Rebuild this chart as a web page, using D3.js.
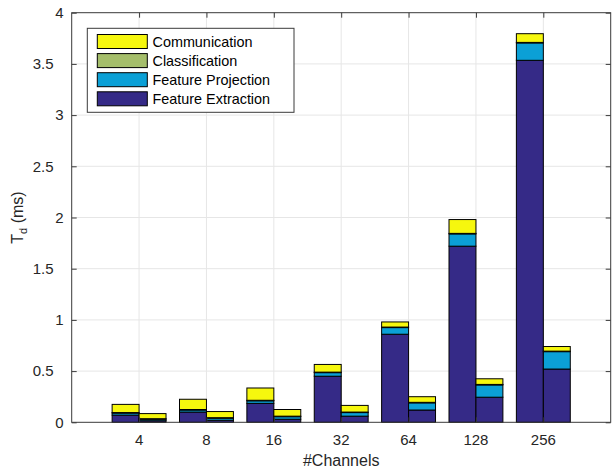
<!DOCTYPE html>
<html>
<head>
<meta charset="utf-8">
<script src="https://cdn.jsdelivr.net/npm/d3@7"></script>
<style>
  html, body { margin: 0; padding: 0; background: #fff; }
  svg { display: block; font-family: "Liberation Sans", Arial, Helvetica, sans-serif; }
</style>
</head>
<body>
<svg id="chart" width="612" height="473"></svg>
<script>
// Channel counts along the x axis
const categories = ["4", "8", "16", "32", "64", "128", "256"];

// Left bar of each pair (ms)
const extractionA     = [0.070, 0.100, 0.185, 0.450, 0.860, 1.720, 3.535];
const projectionA     = [0.020, 0.020, 0.025, 0.035, 0.065, 0.120, 0.170];
const classificationA = [0.005, 0.005, 0.005, 0.005, 0.005, 0.005, 0.005];
const communicationA  = [0.080, 0.100, 0.120, 0.075, 0.050, 0.135, 0.085];

// Right bar of each pair (ms)
const extractionB     = [0.015, 0.020, 0.030, 0.060, 0.120, 0.245, 0.520];
const projectionB     = [0.015, 0.020, 0.025, 0.035, 0.070, 0.120, 0.170];
const classificationB = [0.005, 0.005, 0.005, 0.005, 0.005, 0.005, 0.005];
const communicationB  = [0.050, 0.060, 0.065, 0.065, 0.055, 0.055, 0.045];

// Stack order, bottom to top
const seriesKeys   = ["Feature Extraction", "Feature Projection", "Classification", "Communication"];
const seriesColors = ["#352A87", "#0BA0D6", "#A5BE6B", "#F6F70E"];
const yTicks = [0, 0.5, 1, 1.5, 2, 2.5, 3, 3.5, 4];

const svg = d3.select("#chart");
const plotL = 71.7, plotR = 610.7, plotT = 12.7, plotB = 422.3;
const axisColor = "#3a3a3a";

const x = d3.scaleLinear().domain([0, categories.length + 1]).range([plotL, plotR]);
const y = d3.scaleLinear().domain([0, 4]).range([plotB, plotT]);
const barW = 0.4;

// Build stacked rows for both bars of each pair
function rows(ext, proj, cls, comm) {
  return categories.map((c, i) => ({
    cat: c, idx: i + 1,
    "Feature Extraction": ext[i],
    "Feature Projection": proj[i],
    "Classification": cls[i],
    "Communication": comm[i]
  }));
}
const rowsA = rows(extractionA, projectionA, classificationA, communicationA);
const rowsB = rows(extractionB, projectionB, classificationB, communicationB);
const stack = d3.stack().keys(seriesKeys);

// Grid
const grid = svg.append("g").attr("stroke", "#e6e6e6").attr("stroke-width", 1);
grid.selectAll("line.gy").data(yTicks.slice(1, -1)).join("line")
  .attr("x1", plotL).attr("x2", plotR)
  .attr("y1", d => y(d)).attr("y2", d => y(d));
grid.selectAll("line.gx").data(categories.map((c, i) => i + 1)).join("line")
  .attr("y1", plotT).attr("y2", plotB)
  .attr("x1", d => x(d)).attr("x2", d => x(d));

// Bars
function drawBars(data, offset) {
  const layers = stack(data);
  const g = svg.append("g");
  layers.forEach((layer, k) => {
    g.selectAll(null).data(layer).join("rect")
      .attr("x", d => x(d.data.idx + offset - barW / 2))
      .attr("width", d => x(barW) - x(0))
      .attr("y", d => y(d[1]))
      .attr("height", d => y(d[0]) - y(d[1]))
      .attr("fill", seriesColors[k])
      .attr("stroke", "#000")
      .attr("stroke-width", 1);
  });
}
drawBars(rowsA, -0.2);
drawBars(rowsB, 0.2);

// Axes box with inward ticks on all sides
const tickLen = 5;
const xTickVals = categories.map((c, i) => i + 1);
function styleAxis(g) {
  g.selectAll("line").attr("stroke", axisColor);
  g.select(".domain").remove();
}
svg.append("g").attr("transform", `translate(${plotL},0)`)
  .call(d3.axisLeft(y).tickValues(yTicks).tickSize(-tickLen).tickFormat("")).call(styleAxis);
svg.append("g").attr("transform", `translate(${plotR},0)`)
  .call(d3.axisRight(y).tickValues(yTicks).tickSize(-tickLen).tickFormat("")).call(styleAxis);
svg.append("g").attr("transform", `translate(0,${plotB})`)
  .call(d3.axisBottom(x).tickValues(xTickVals).tickSize(-tickLen).tickFormat("")).call(styleAxis);
svg.append("g").attr("transform", `translate(0,${plotT})`)
  .call(d3.axisTop(x).tickValues(xTickVals).tickSize(-tickLen).tickFormat("")).call(styleAxis);
svg.append("rect").attr("x", plotL).attr("y", plotT)
  .attr("width", plotR - plotL).attr("height", plotB - plotT)
  .attr("fill", "none").attr("stroke", axisColor).attr("stroke-width", 1);

// Tick labels
svg.append("g").selectAll("text").data(yTicks).join("text")
  .attr("x", d => Number.isInteger(d) ? 63.5 : 53.5)
  .attr("y", d => y(d))
  .attr("dy", "0.35em")
  .attr("text-anchor", "end")
  .attr("font-size", 15)
  .attr("fill", "#262626")
  .text(d => String(d));
svg.append("g").selectAll("text").data(categories).join("text")
  .attr("x", (d, i) => x(i + 1))
  .attr("y", 444.5)
  .attr("text-anchor", "middle")
  .attr("font-size", 15)
  .attr("fill", "#262626")
  .text(d => d);

// Axis titles
svg.append("text")
  .attr("x", (plotL + plotR) / 2).attr("y", 466)
  .attr("text-anchor", "middle").attr("font-size", 16).attr("fill", "#262626")
  .text("#Channels");
const yl = svg.append("text")
  .attr("transform", `translate(23.3,${(plotT + plotB) / 2}) rotate(-90)`)
  .attr("text-anchor", "middle").attr("font-size", 16).attr("fill", "#262626");
yl.append("tspan").text("T");
yl.append("tspan").attr("font-size", 11).attr("dy", 4).text("d");
yl.append("tspan").attr("dy", -4).text(" (ms)");

// Legend
const legend = svg.append("g");
legend.append("rect").attr("x", 87.3).attr("y", 28.3).attr("width", 206.7).attr("height", 84)
  .attr("fill", "#fff").attr("stroke", axisColor).attr("stroke-width", 1);
const legendItems = seriesKeys.map((k, i) => ({ key: k, color: seriesColors[i] })).reverse();
legendItems.forEach((it, i) => {
  const cy = 41.5 + i * 19.1;
  legend.append("rect").attr("x", 97.3).attr("y", cy - 7).attr("width", 50).attr("height", 14)
    .attr("fill", it.color).attr("stroke", "#000").attr("stroke-width", 1);
  legend.append("text").attr("x", 152.5).attr("y", cy).attr("dy", "0.35em")
    .attr("font-size", 14.4).attr("fill", "#000").text(it.key);
});
</script>
</body>
</html>
